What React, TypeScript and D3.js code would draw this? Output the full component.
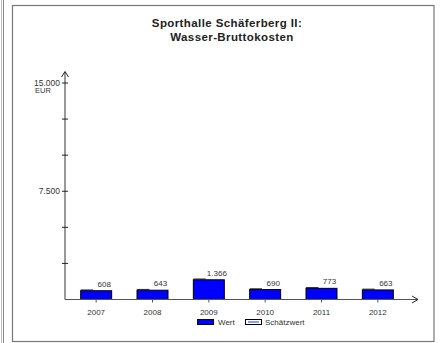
import React from 'react';
import * as d3 from 'd3';

const years = ['2007', '2008', '2009', '2010', '2011', '2012'];
const values = [608, 643, 1366, 690, 773, 663];
const valueLabels = ['608', '643', '1.366', '690', '773', '663'];
const yTicks = [0, 2500, 5000, 7500, 10000, 12500, 15000];
const yTickLabels: Record<number, string> = { 7500: '7.500', 15000: '15.000' };
const titleLines = ['Sporthalle Schäferberg II:', 'Wasser-Bruttokosten'];
const legendItems = ['Wert', 'Schätzwert'];

const W = 440;
const H = 343;
const font = 'Liberation Sans, Arial, sans-serif';

const App: React.FC = () => {
  const axisX = 65;
  const axisY = 299.5;
  const y = d3.scaleLinear([0, 15000], [axisY, 83]);
  const x = d3.scaleBand(years, [68, 406]).paddingInner(0.45).paddingOuter(0.225);

  const axisColor = '#555';
  const textColor = '#333';

  return (
    <svg
      width={W}
      height={H}
      style={{ position: 'absolute', left: 0, top: 0, background: '#fff' }}
    >
      {/* neighbour panel edge */}
      <line x1={3.5} y1={0} x2={3.5} y2={H} stroke="#888" strokeWidth={1} />
      <line x1={1.5} y1={0} x2={1.5} y2={H} stroke="#bbb" strokeWidth={1} />
      {/* frame */}
      <rect x={12.5} y={5.5} width={421.5} height={336} fill="#fff" stroke="#777" strokeWidth={1.2} />

      {/* title */}
      {titleLines.map((t, i) => (
        <text
          key={t}
          x={i === 0 ? 227 : 232}
          y={27 + i * 13.5}
          textAnchor="middle"
          fontFamily={font}
          fontWeight="bold"
          fontSize={11.5}
          letterSpacing={0.4}
          fill="#222"
        >
          {t}
        </text>
      ))}

      {/* bars */}
      {years.map((yr, i) => {
        const bx = x(yr)!;
        const bw = x.bandwidth();
        const top = y(values[i]);
        return (
          <g key={yr}>
            <rect
              x={bx}
              y={top}
              width={bw}
              height={axisY - top}
              fill="#0000ff"
              stroke="#000"
              strokeWidth={1}
            />
            <line x1={bx} y1={top - 0.8} x2={bx + bw * 0.4} y2={top - 0.8} stroke="#000" strokeWidth={0.8} />
            <text
              x={bx + bw / 2 + 8}
              y={top - 4}
              textAnchor="middle"
              fontFamily={font}
              fontSize={8}
              fill={textColor}
            >
              {valueLabels[i]}
            </text>
            <line x1={bx + bw / 2} y1={axisY} x2={bx + bw / 2} y2={axisY + 3} stroke={axisColor} />
            <text
              x={bx + bw / 2}
              y={314.5}
              textAnchor="middle"
              fontFamily={font}
              fontSize={8}
              fill={textColor}
            >
              {yr}
            </text>
          </g>
        );
      })}

      {/* y axis */}
      <line x1={axisX} y1={axisY} x2={axisX} y2={72} stroke={axisColor} strokeWidth={1.2} />
      <polyline
        points={`${axisX - 3.5},${77} ${axisX},${71.5} ${axisX + 3.5},${77}`}
        fill="none"
        stroke="#222"
        strokeWidth={1}
      />
      {yTicks.filter((t) => t > 0).map((t) => (
        <g key={t}>
          <line x1={axisX - 3} y1={y(t)} x2={axisX + 3} y2={y(t)} stroke="#222" strokeWidth={1} />
          {yTickLabels[t] && (
            <text
              x={axisX - 5}
              y={y(t) + 2.5}
              textAnchor="end"
              fontFamily={font}
              fontSize={8.5}
              fill={textColor}
            >
              {yTickLabels[t]}
            </text>
          )}
        </g>
      ))}
      <text x={43} y={93} textAnchor="middle" fontFamily={font} fontSize={7.5} fill={textColor}>
        EUR
      </text>

      {/* x axis */}
      <line x1={axisX} y1={axisY} x2={417} y2={axisY} stroke={axisColor} strokeWidth={1.2} />
      <polyline
        points={`${412},${axisY - 3.5} ${418},${axisY} ${412},${axisY + 3.5}`}
        fill="none"
        stroke="#222"
        strokeWidth={1}
      />

      {/* legend */}
      <rect x={197.5} y={319.5} width={16} height={5} fill="#0000ff" stroke="#000" strokeWidth={1} />
      <text x={218} y={325} fontFamily={font} fontSize={8} fill={textColor}>
        {legendItems[0]}
      </text>
      <rect x={245.5} y={319.5} width={16} height={5} fill="#fff" stroke="#000" strokeWidth={1} />
      <rect x={248} y={321} width={11} height={2} fill="#8899ff" />
      <text x={265} y={325} fontFamily={font} fontSize={8} fill={textColor}>
        {legendItems[1]}
      </text>
    </svg>
  );
};

export default App;
